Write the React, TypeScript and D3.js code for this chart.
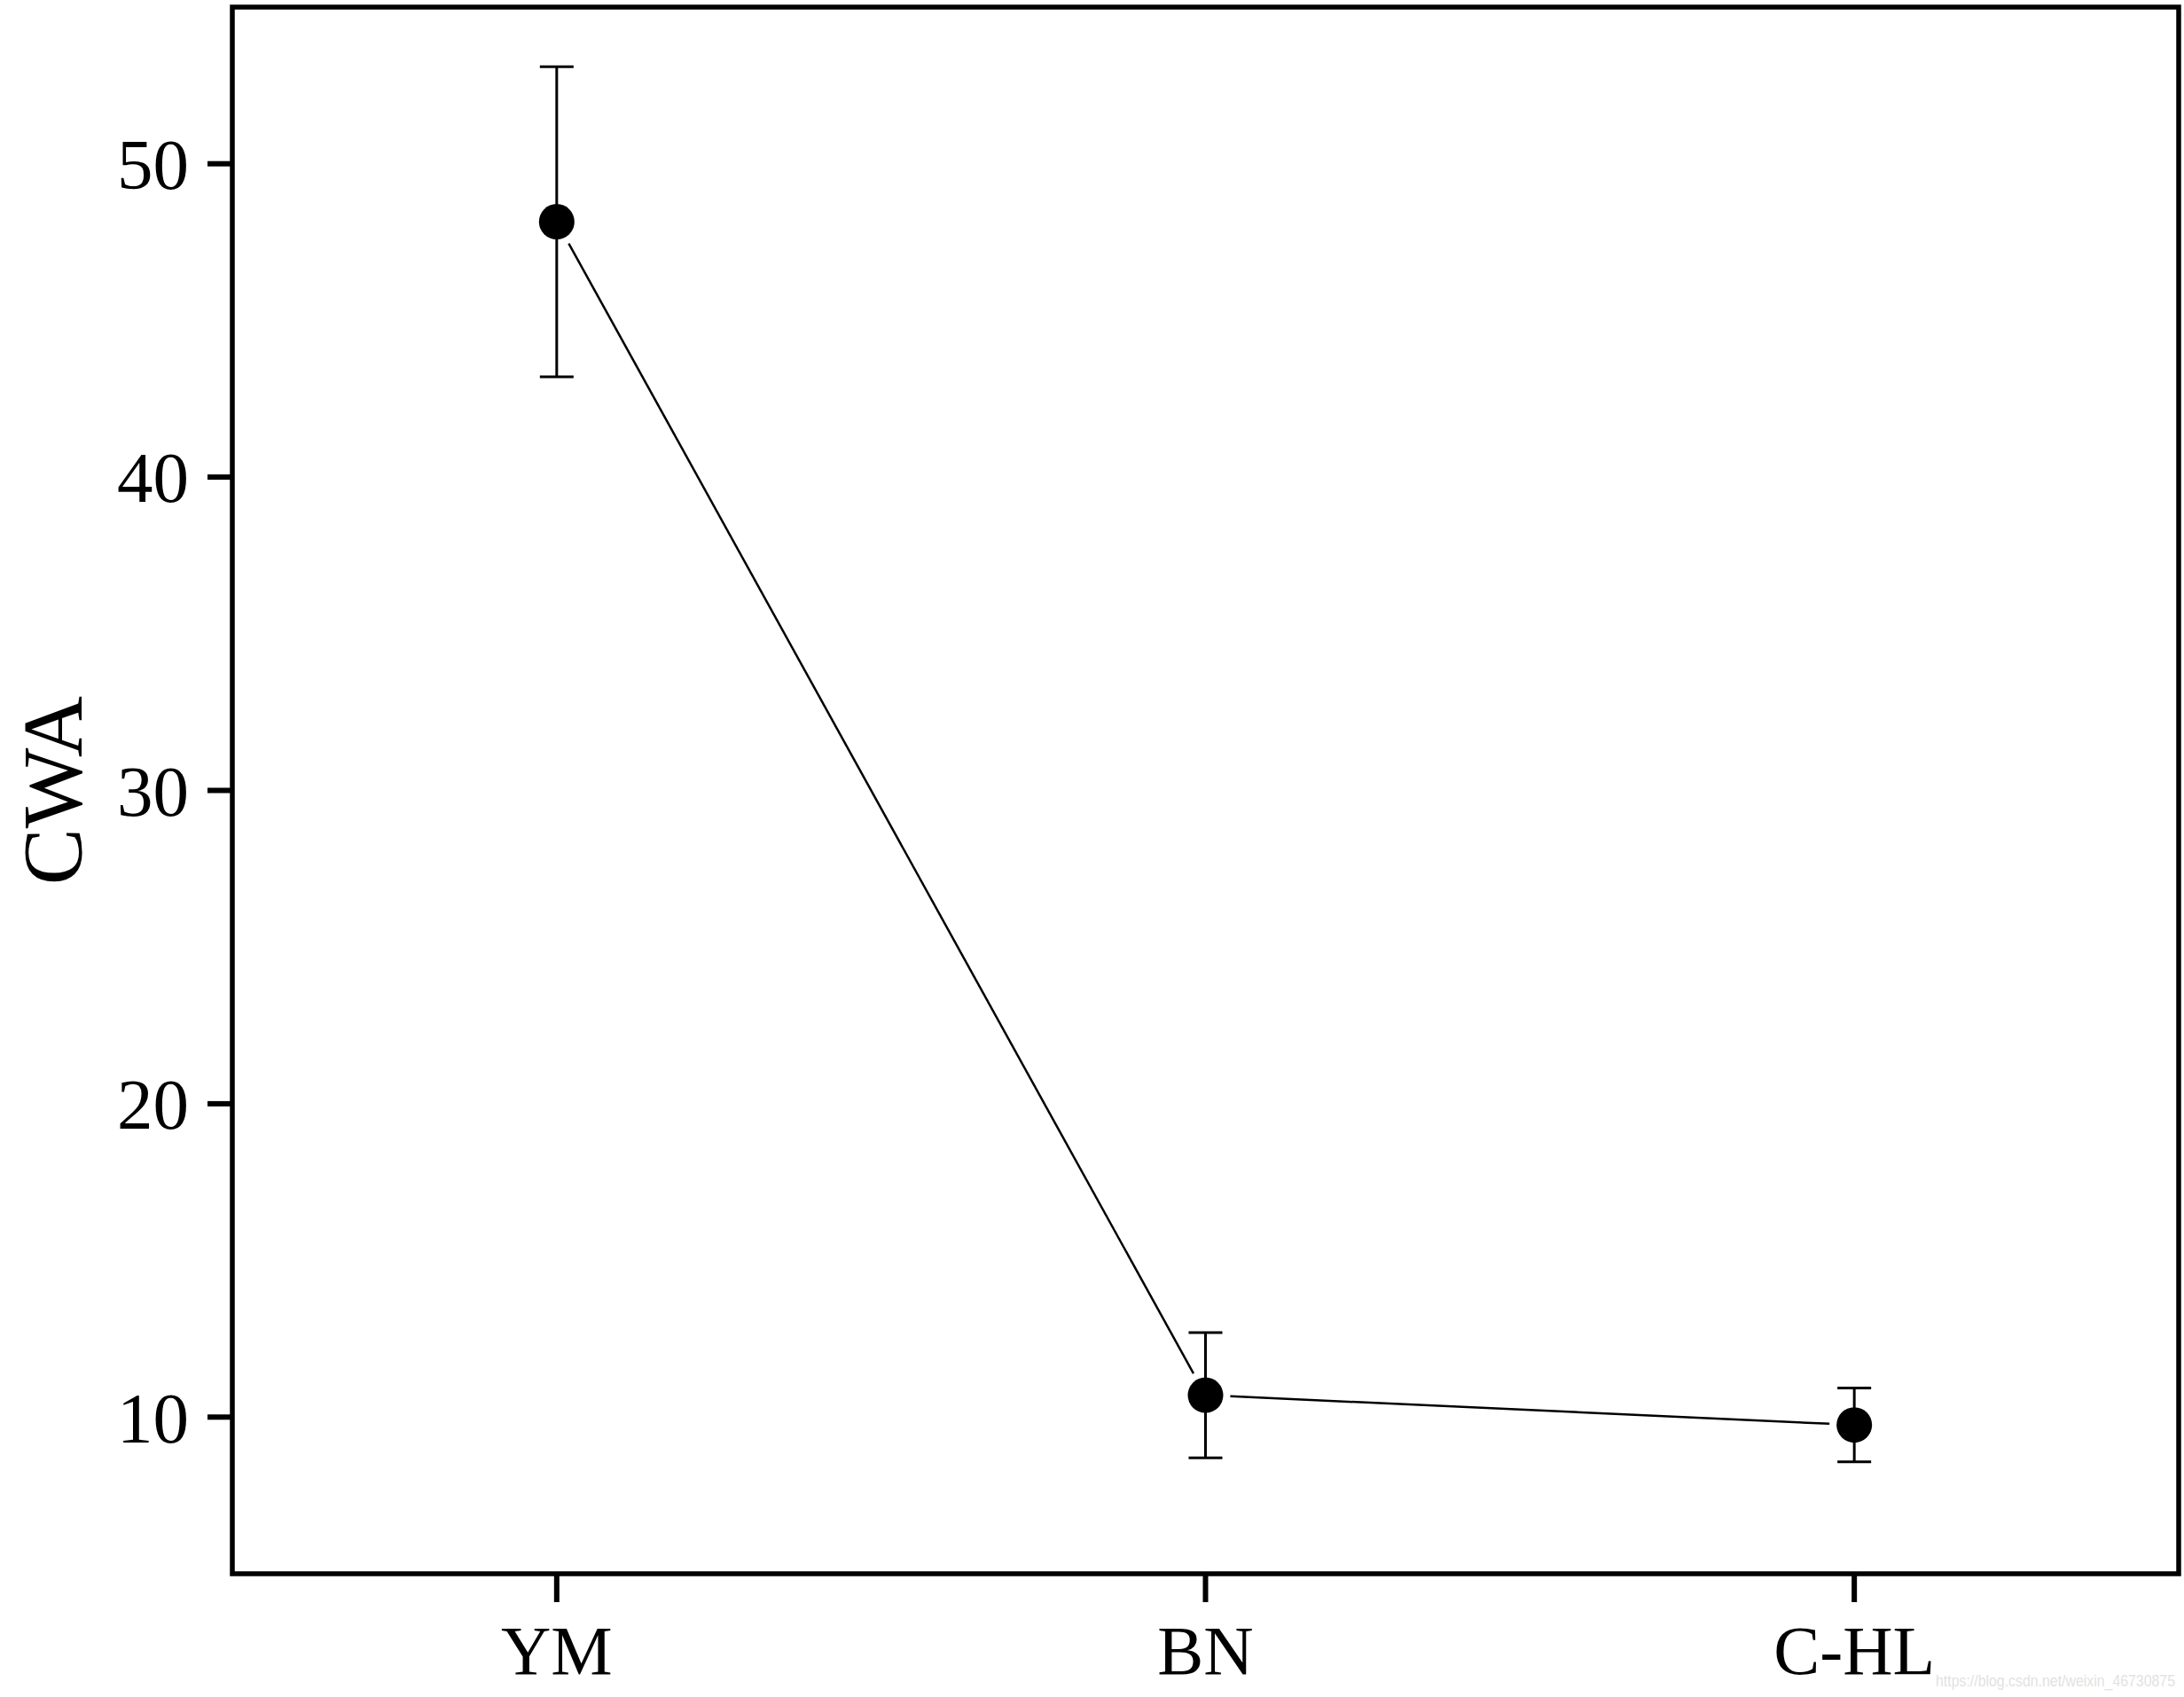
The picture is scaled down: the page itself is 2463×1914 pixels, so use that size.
import React from "react";
import * as d3 from "d3";

const categories = ["YM", "BN", "C-HL"];
const means = [48.15, 10.7, 9.75];
const errors = [4.95, 2.0, 1.18];
const yTicks = [10, 20, 30, 40, 50];
const yLabel = "CWA";
const watermark = "https://blog.csdn.net/weixin_46730875";

const W = 2463;
const H = 1914;
const left = 262;
const right = 2457;
const top = 8;
const bottom = 1775;

export default function App() {
  const x = d3.scaleLinear().domain([0.5, 3.5]).range([left, right]);
  const y = d3.scaleLinear().domain([5, 55]).range([bottom, top]);
  const pts = categories.map((c, i) => ({ c, x: x(i + 1), y: y(means[i]), e: errors[i], m: means[i] }));
  const r = 20;
  const gap = 8;
  const segs = pts.slice(1).map((p, i) => {
    const a = pts[i];
    const dx = p.x - a.x;
    const dy = p.y - a.y;
    const L = Math.hypot(dx, dy);
    const ux = dx / L;
    const uy = dy / L;
    const off = r + gap;
    return [a.x + ux * off, a.y + uy * off, p.x - ux * off, p.y - uy * off];
  });
  const font = "'Liberation Serif', 'Times New Roman', serif";
  return (
    <svg width={W} height={H} style={{ position: "absolute", left: 0, top: 0, background: "#fff" }}>
      <rect x={0} y={0} width={W} height={H} fill="#fff" />
      {segs.map((s, i) => (
        <line key={"s" + i} x1={s[0]} y1={s[1]} x2={s[2]} y2={s[3]} stroke="#000" strokeWidth={2.5} />
      ))}
      {pts.map((p, i) => (
        <g key={"e" + i} stroke="#000" strokeWidth={3}>
          <line x1={p.x} x2={p.x} y1={y(p.m + p.e)} y2={y(p.m - p.e)} />
          <line x1={p.x - 19} x2={p.x + 19} y1={y(p.m + p.e)} y2={y(p.m + p.e)} />
          <line x1={p.x - 19} x2={p.x + 19} y1={y(p.m - p.e)} y2={y(p.m - p.e)} />
        </g>
      ))}
      {pts.map((p, i) => (
        <circle key={"c" + i} cx={p.x} cy={p.y} r={r} fill="#000" />
      ))}
      <rect x={left} y={top} width={right - left} height={bottom - top} fill="none" stroke="#000" strokeWidth={5.5} />
      {yTicks.map((t) => (
        <g key={"y" + t}>
          <line x1={left - 28} x2={left} y1={y(t)} y2={y(t)} stroke="#000" strokeWidth={6} />
          <text x={left - 49} y={y(t)} dy="0.35em" textAnchor="end" fontFamily={font} fontSize={81} fill="#000">
            {t}
          </text>
        </g>
      ))}
      {pts.map((p, i) => (
        <g key={"x" + i}>
          <line x1={p.x} x2={p.x} y1={bottom} y2={bottom + 32} stroke="#000" strokeWidth={6} />
          <text x={p.x} y={1888} textAnchor="middle" fontFamily={font} fontSize={78} fill="#000">
            {p.c}
          </text>
        </g>
      ))}
      <text
        transform={`translate(92, ${(top + bottom) / 2}) rotate(-90)`}
        textAnchor="middle"
        fontFamily={font}
        fontSize={96}
        fill="#000"
      >
        {yLabel}
      </text>
      <text
        x={2183}
        y={1902}
        textLength={270}
        lengthAdjust="spacingAndGlyphs"
        fontFamily="'Liberation Sans', Arial, sans-serif"
        fontSize={19}
        fill="#e2e2e2"
      >
        {watermark}
      </text>
    </svg>
  );
}
